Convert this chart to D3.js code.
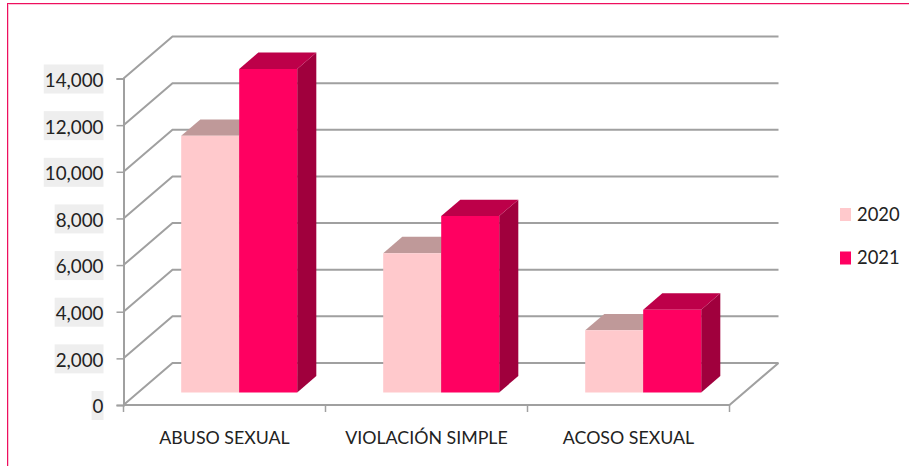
<!DOCTYPE html>
<html>
<head>
<meta charset="utf-8">
<script src="https://cdn.jsdelivr.net/npm/d3@7"></script>
<style>
  html, body { margin: 0; padding: 0; background: #fff; }
  text { font-family: Lato, sans-serif; fill: #222; }
</style>
</head>
<body>
<div id="chart"></div>
<script>
// -- DATA --
categories = ['ABUSO SEXUAL', 'VIOLACIÓN SIMPLE', 'ACOSO SEXUAL']
seriesNames = ['2020', '2021']
values2020 = [11000, 5970, 2660]
values2021 = [13870, 7560, 3545]
yTicks = [0, 2000, 4000, 6000, 8000, 10000, 12000, 14000]

// -- GLOBAL --
width = 909
height = 466
depth = {dx: 49, dy: 42}      // how far the back wall sits from the front plane
barZ = {front: 0.3, back: 0.69}
gridColor = '#a0a0a0'

colors = {
  '2020': {front: '#ffc9cc', top: '#bf9999', side: '#a87f82'},
  '2021': {front: '#ff0061', top: '#bd0049', side: '#a0003d'}
}

var svg = d3.select('#chart').append('svg')
  .attr('width', width)
  .attr('height', height)
  .style('display', 'block')

var xMap = d3.scaleBand()
  .domain(categories)
  .range([123.5, 729.5])
  .paddingInner(86 / 202)
  .paddingOuter(43 / 202)

var xInner = d3.scaleBand()
  .domain(seriesNames)
  .range([0, xMap.bandwidth()])

var yMap = d3.scaleLinear()
  .domain([0, 14000])
  .range([405, 78.5])

// oblique projection of the 3d box
function px(x, z) { return x + depth.dx * z }
function py(y, z) { return y - depth.dy * z }

// -- FRAME --
// light halo first, the thin line keeps its colour better that way
svg.append('path')
  .attr('d', d3.line()([[8.5, height], [8.5, 4.5], [width, 4.5]]))
  .style('fill', 'none')
  .style('stroke', '#fbc4d8')
  .style('stroke-width', 1)
  .style('shape-rendering', 'crispEdges')

svg.append('path')
  .attr('d', d3.line()([[7.5, height], [7.5, 3.5], [width, 3.5]]))
  .style('fill', 'none')
  .style('stroke', '#ee0f5e')
  .style('stroke-width', 1)
  .style('shape-rendering', 'crispEdges')

// -- WALLS --
var gGrid = svg.append('g')
  .style('fill', 'none')
  .style('stroke', gridColor)
  .style('stroke-width', 2)

gGrid.selectAll('path')
  .data(yTicks)
  .enter().append('path')
  .attr('d', d => d3.line()([
    [px(xMap.range()[0], 0), py(yMap(d), 0)],
    [px(xMap.range()[0], 1), py(yMap(d), 1)],
    [px(xMap.range()[1], 1), py(yMap(d), 1)]
  ]))

// floor, front and right edge
gGrid.append('path')
  .attr('d', d3.line()([
    [xMap.range()[0], yMap(0)],
    [xMap.range()[1], yMap(0)],
    [px(xMap.range()[1], 1), py(yMap(0), 1)]
  ]))

// -- AXES --
var yAxis = d3.axisLeft(yMap)
  .tickValues(yTicks)
  .tickSize(7)
  .tickPadding(13)
  .tickFormat(d3.format(','))

var gY = svg.append('g')
  .attr('transform', 'translate(123.5,0)')
  .call(yAxis)

gY.select('.domain').style('stroke', gridColor).style('stroke-width', 2)
gY.selectAll('.tick line').style('stroke', gridColor).style('stroke-width', 1.5)
gY.selectAll('.tick text')
  .style('font-size', '18.8px')
  .attr('dy', '0.42em')

// grey boxes behind the tick labels
gY.selectAll('.tick').each(function() {
  var t = d3.select(this).select('text')
  var w = t.node().getComputedTextLength()
  d3.select(this).insert('rect', 'text')
    .attr('x', -20 - w - 1)
    .attr('y', -14.5)
    .attr('width', w + 1)
    .attr('height', 29)
    .style('fill', '#eeeeee')
})

var xAxis = d3.axisBottom(xMap)
  .tickSize(0)
  .tickPadding(26)

var gX = svg.append('g')
  .attr('transform', 'translate(0,405)')
  .call(xAxis)

gX.select('.domain').remove()
gX.selectAll('.tick text')
  .style('font-size', '17.8px')

// ticks between categories
gX.selectAll('.sep')
  .data([0, 1, 2, 3])
  .enter().append('line')
  .attr('class', 'sep')
  .attr('x1', d => xMap.range()[0] + d * xMap.step())
  .attr('x2', d => xMap.range()[0] + d * xMap.step())
  .attr('y1', 0)
  .attr('y2', 7)
  .style('stroke', gridColor)
  .style('stroke-width', 1.5)

// -- BARS --
var bars = []
seriesNames.forEach(function(s, si) {
  var vals = si == 0 ? values2020 : values2021
  categories.forEach(function(c, i) { bars.push({cat: c, series: s, value: vals[i]}) })
})

var gBar = svg.append('g')
  .selectAll('g')
  .data(bars)
  .enter().append('g')

function facePath(d, face) {
  var x0 = xMap(d.cat) + xInner(d.series)
  var x1 = x0 + xInner.bandwidth()
  var f = barZ.front
  var b = barZ.back
  var yt = yMap(d.value)
  var y0 = yMap(0)
  var pts
  if (face == 'front') pts = [[px(x0, f), py(yt, f)], [px(x1, f), py(yt, f)], [px(x1, f), py(y0, f)], [px(x0, f), py(y0, f)]]
  if (face == 'top') pts = [[px(x0, f), py(yt, f)], [px(x0, b), py(yt, b)], [px(x1, b), py(yt, b)], [px(x1, f), py(yt, f)]]
  if (face == 'side') pts = [[px(x1, f), py(yt, f)], [px(x1, b), py(yt, b)], [px(x1, b), py(y0, b)], [px(x1, f), py(y0, f)]]
  return d3.line()(pts) + 'Z'
}

;['side', 'top', 'front'].forEach(function(face) {
  gBar.append('path')
    .attr('d', d => facePath(d, face))
    .style('fill', d => colors[d.series][face])
})

// -- LEGEND --
var yLegend = d3.scalePoint()
  .domain(seriesNames)
  .range([214.5, 258])

var gLegend = svg.append('g')
  .selectAll('g')
  .data(seriesNames)
  .enter().append('g')
  .attr('transform', d => 'translate(840,' + yLegend(d) + ')')

gLegend.append('rect')
  .attr('x', 0)
  .attr('y', -6.5)
  .attr('width', 11)
  .attr('height', 13)
  .style('fill', d => colors[d].front)

gLegend.append('text')
  .attr('x', 17)
  .attr('dy', '0.35em')
  .style('font-size', '18.4px')
  .text(d => d)
</script>
</body>
</html>
